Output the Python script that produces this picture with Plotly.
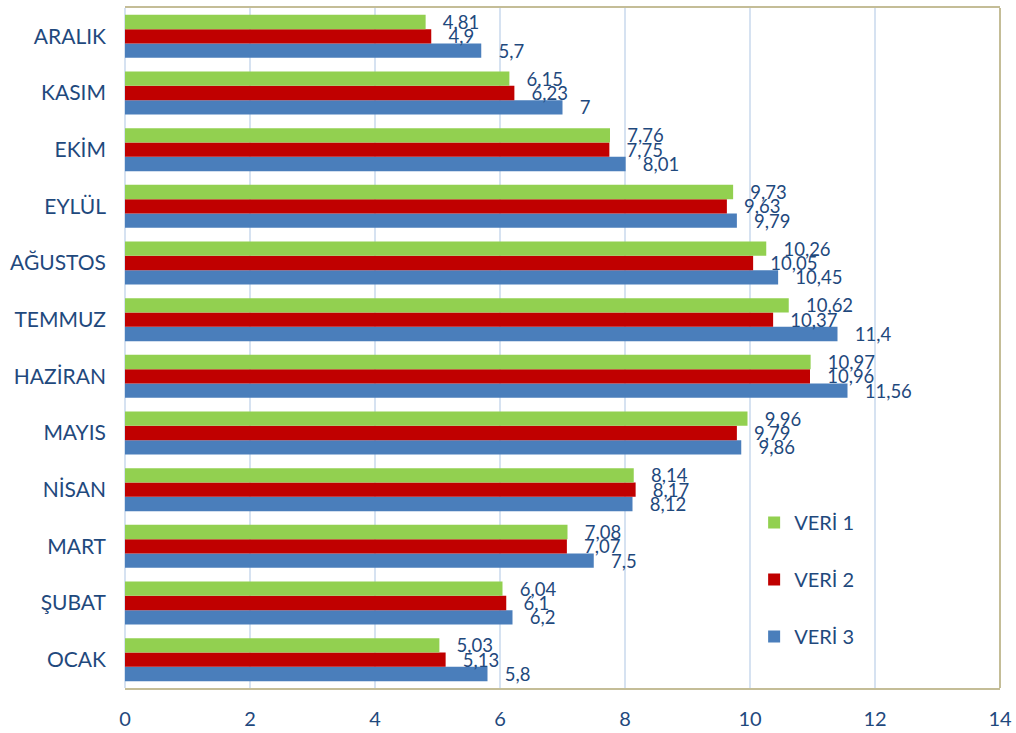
import plotly.graph_objects as go

categories = ["OCAK", "ŞUBAT", "MART", "NİSAN", "MAYIS", "HAZİRAN",
              "TEMMUZ", "AĞUSTOS", "EYLÜL", "EKİM", "KASIM", "ARALIK"]
veri1 = [5.03, 6.04, 7.08, 8.14, 9.96, 10.97, 10.62, 10.26, 9.73, 7.76, 6.15, 4.81]
veri2 = [5.13, 6.1, 7.07, 8.17, 9.79, 10.96, 10.37, 10.05, 9.63, 7.75, 6.23, 4.9]
veri3 = [5.8, 6.2, 7.5, 8.12, 9.86, 11.56, 11.4, 10.45, 9.79, 8.01, 7, 5.7]
x_ticks = [0, 2, 4, 6, 8, 10, 12, 14]

TXT = "#1f497d"
GRID = "#d6e2f1"
BORDER = "#c4bd97"
FONT = "Lato"


def lab(vals):
    return ["\u00a0\u00a0\u00a0" + ("%g" % v).replace(".", ",") for v in vals]


fig = go.Figure()
series = [("VERİ 3", veri3, "#4a7ebb", 3),
          ("VERİ 2", veri2, "#c00000", 2),
          ("VERİ 1", veri1, "#92d050", 1)]
for name, vals, col, rank in series:
    fig.add_trace(go.Bar(
        y=categories, x=vals, name=name, orientation="h",
        marker=dict(color=col, line=dict(width=0)),
        text=lab(vals), textposition="outside", cliponaxis=False,
        textfont=dict(family=FONT, size=18.5, color=TXT),
        legendrank=rank, legendgroup=name,
    ))

fig.update_layout(
    width=1016, height=733,
    margin=dict(l=125, r=16, t=8, b=45, autoexpand=False),
    paper_bgcolor="white", plot_bgcolor="white",
    barmode="group", bargap=0.24, bargroupgap=0,
    font=dict(family=FONT, color=TXT, size=20),
    legend=dict(
        x=0.719, y=0.272, xanchor="left", yanchor="top",
        bgcolor="rgba(0,0,0,0)", font=dict(family=FONT, size=20, color=TXT),
        tracegroupgap=28, itemwidth=30,
    ),
    showlegend=True,
)
fig.update_traces(constraintext="none")
fig.update_xaxes(
    range=[0, 14], tickvals=x_ticks, ticktext=[str(t) for t in x_ticks],
    showgrid=True, gridcolor=GRID, gridwidth=2,
    zeroline=True, zerolinecolor=GRID, zerolinewidth=2,
    showline=True, linecolor=BORDER, linewidth=2, mirror=True,
    tickfont=dict(family=FONT, size=20, color=TXT), ticklabelstandoff=12,
    ticklabeloverflow="allow", automargin=False,
)
fig.update_yaxes(
    showgrid=False, zeroline=False, showline=False,
    tickfont=dict(family=FONT, size=21, color=TXT), ticklabelstandoff=18,
    ticks="", automargin=False,
)
fig.add_shape(type="line", xref="paper", yref="paper", x0=1, x1=1, y0=0, y1=1,
              line=dict(color=BORDER, width=2))

fig.write_html(
    "out.html",
    config={"displayModeBar": False},
    post_script="document.body.style.margin='0';document.body.style.overflow='hidden';",
)
